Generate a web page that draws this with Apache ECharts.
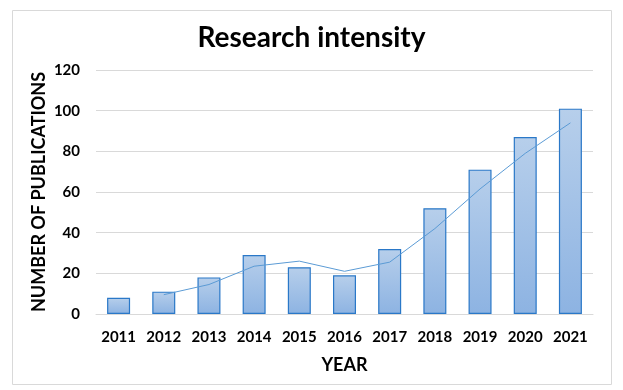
<!DOCTYPE html>
<html><head><meta charset="utf-8">
<script src="https://cdn.jsdelivr.net/npm/echarts@6/dist/echarts.min.js"></script>
<style>html,body{margin:0;padding:0;background:#fff}#c{width:623px;height:390px}</style>
</head><body><div id="c"></div>
<script>
const years = ['2011','2012','2013','2014','2015','2016','2017','2018','2019','2020','2021'];
const publications = [8, 11, 18, 29, 23, 19, 32, 52, 71, 87, 101];
const trend = [null, 9.5, 14.5, 23.5, 26, 21, 25.5, 42, 61.5, 79, 94];
const FONT = 'Lato, "Open Sans", sans-serif';
const chart = echarts.init(document.getElementById('c'));
chart.setOption({
  animation: false,
  graphic: [{type:'rect', shape:{x:12.5,y:10.5,width:599,height:374}, style:{fill:'none', stroke:'#d9d9d9', lineWidth:1}, z:-1}],
  title: {text:'Research intensity', left:'center', top:19, textStyle:{fontFamily:FONT, fontWeight:'bold', fontSize:28, color:'#000'}},
  grid: {left:96, right:30, top:70, bottom:76},
  xAxis: {type:'category', data:years, name:'YEAR', nameLocation:'middle', nameGap:42,
    nameTextStyle:{fontFamily:FONT, fontWeight:'bold', fontSize:18, color:'#000'},
    axisLine:{lineStyle:{color:'#d9d9d9'}}, axisTick:{show:false},
    axisLabel:{interval:0, fontFamily:FONT, fontWeight:'bold', fontSize:15, color:'#000', margin:16}},
  yAxis: {type:'value', min:0, max:120, interval:20, name:'NUMBER OF PUBLICATIONS', nameLocation:'middle', nameGap:48, nameMoveOverlap:false,
    nameTextStyle:{fontFamily:FONT, fontWeight:'bold', fontSize:18, color:'#000'},
    axisLine:{show:false}, axisTick:{show:false},
    splitLine:{lineStyle:{color:'#d9d9d9'}},
    axisLabel:{fontFamily:FONT, fontWeight:'bold', fontSize:15, color:'#000', margin:16}},
  series: [
    {type:'bar', data:publications, barWidth:23,
     itemStyle:{color:new echarts.graphic.LinearGradient(0,0,0,1,[{offset:0,color:'#b7cfeb'},{offset:1,color:'#8db3e2'}]), borderColor:'#2a78c8', borderWidth:1.2}},
    {type:'line', data:trend, symbol:'none', smooth:false, lineStyle:{color:'#5b9bd5', width:1}, z:5}
  ]
});
</script></body></html>
